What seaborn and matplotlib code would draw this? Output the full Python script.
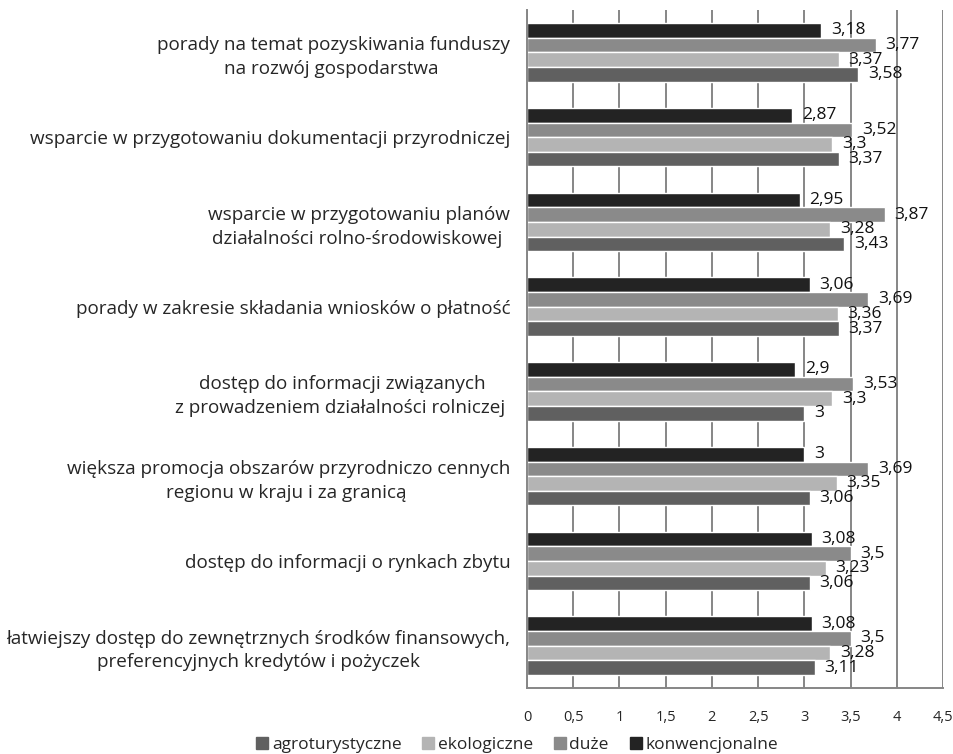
import pandas as pd
import seaborn as sns
import matplotlib.pyplot as plt
from matplotlib.patches import Patch

# Data
categories = [
    "porady na temat pozyskiwania funduszy\nna rozwój gospodarstwa ",
    "wsparcie w przygotowaniu dokumentacji przyrodniczej",
    "wsparcie w przygotowaniu planów\ndziałalności rolno-środowiskowej ",
    "porady w zakresie składania wniosków o płatność",
    "dostęp do informacji związanych\nz prowadzeniem działalności rolniczej ",
    "większa promocja obszarów przyrodniczo cennych\nregionu w kraju i za granicą ",
    "dostęp do informacji o rynkach zbytu",
    "łatwiejszy dostęp do zewnętrznych środków finansowych,\npreferencyjnych kredytów i pożyczek",
]
konwencjonalne = [3.18, 2.87, 2.95, 3.06, 2.9, 3.0, 3.08, 3.08]
duze = [3.77, 3.52, 3.87, 3.69, 3.53, 3.69, 3.5, 3.5]
ekologiczne = [3.37, 3.3, 3.28, 3.36, 3.3, 3.35, 3.23, 3.28]
agroturystyczne = [3.58, 3.37, 3.43, 3.37, 3.0, 3.06, 3.06, 3.11]

series = ["konwencjonalne", "duże", "ekologiczne", "agroturystyczne"]
colors = {"konwencjonalne": "#232323", "duże": "#8a8a8a",
          "ekologiczne": "#b4b4b4", "agroturystyczne": "#606060"}
xticks = [0, 0.5, 1, 1.5, 2, 2.5, 3, 3.5, 4, 4.5]

rows = []
for name, vals in zip(series, [konwencjonalne, duze, ekologiczne, agroturystyczne]):
    for cat, v in zip(categories, vals):
        rows.append({"kategoria": cat, "grupa": name, "ocena": v})
df = pd.DataFrame(rows)

sns.set_style("white")
plt.rcParams["font.family"] = ["Open Sans", "DejaVu Sans"]


def fmt(v):
    s = ("%.2f" % v).rstrip("0").rstrip(".")
    return s.replace(".", ",")


fig = plt.figure(figsize=(9.54, 7.54), dpi=100)
ax = fig.add_axes([0.5524, 0.0875, 0.4361, 0.8992])

sns.barplot(data=df, y="kategoria", x="ocena", hue="grupa", order=categories,
            hue_order=series, palette=colors, orient="h", width=0.69,
            saturation=1, ax=ax, legend=False)

for cont in ax.containers:
    ax.bar_label(cont, labels=[fmt(v) for v in cont.datavalues],
                 padding=7, fontsize=12.5, color="#111111")

ax.set_xlim(0, 4.5)
ax.set_xticks(xticks)
ax.set_xticklabels([fmt(t) for t in xticks])
ax.set_xlabel("")
ax.set_ylabel("")
ax.xaxis.grid(True, color="#868686", linewidth=1.4)
ax.set_axisbelow(True)
ax.tick_params(axis="x", length=0, pad=16, labelsize=10.5)
ax.tick_params(axis="y", length=0, pad=12, labelsize=13.6)
for lab in ax.get_yticklabels():
    lab.set_multialignment("center")
    lab.set_linespacing(1.4)

sns.despine(ax=ax, top=True, right=True)
for side in ["left", "bottom"]:
    ax.spines[side].set_color("#868686")
    ax.spines[side].set_linewidth(1.4)

legend_order = ["agroturystyczne", "ekologiczne", "duże", "konwencjonalne"]
handles = [Patch(color=colors[s], label=s) for s in legend_order]
fig.legend(handles=handles, loc="lower center", bbox_to_anchor=(0.542, -0.02),
           ncol=4, frameon=False, fontsize=12.5, handlelength=0.7,
           handleheight=0.7, handletextpad=0.2, columnspacing=1.2)

fig.savefig("out.png", dpi=100)
